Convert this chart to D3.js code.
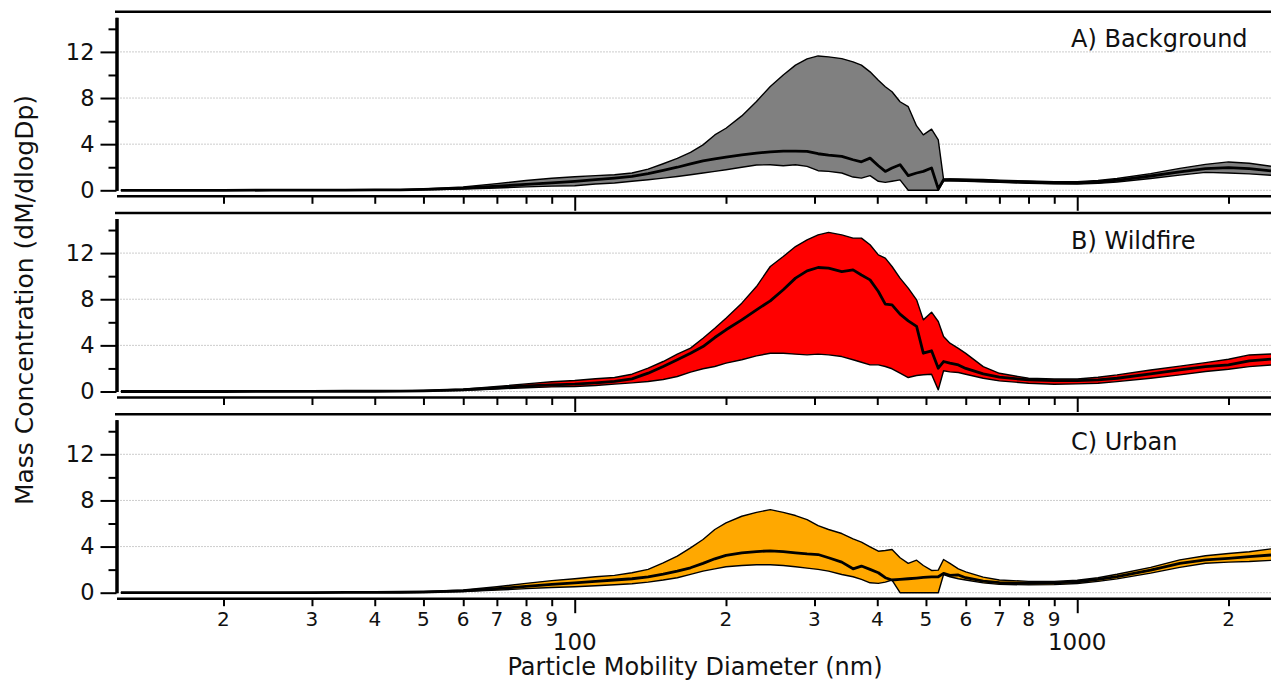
<!DOCTYPE html>
<html>
<head>
<meta charset="utf-8">
<script src="https://cdn.jsdelivr.net/npm/d3@7"></script>
<style>
  body { margin: 0; background: #fff; }
  svg { display: block; font-family: "DejaVu Sans", sans-serif; }
</style>
</head>
<body>
<div id="chart"></div>
<script>
// particle mobility diameter bins (nm)
var diameters = [12.5, 15, 20, 25, 30, 35, 40, 45, 50, 60, 70, 80, 90,
  100, 110, 120, 130, 140, 150, 160, 170, 180, 190, 200, 215, 230, 245, 260, 275, 290, 305, 320,
  340, 358, 372, 387, 402, 415, 428, 444, 461, 479, 494, 513, 529, 542, 558,
  580, 600, 650, 700, 800, 900, 1000, 1100, 1200, 1400, 1600, 1800, 2000, 2200, 2430];

// A) Background
var bgHigh = [0, 0, 0.01, 0.01, 0.02, 0.02, 0.04, 0.06, 0.12, 0.29, 0.58, 0.85, 1.05,
  1.18, 1.27, 1.35, 1.5, 1.84, 2.3, 2.76, 3.28, 3.94, 4.8, 5.38, 6.45, 7.7, 9.0, 10.0, 10.85, 11.4, 11.65, 11.57,
  11.42, 11.14, 10.85, 10.27, 9.55, 8.98, 8.55, 7.68, 7.25, 5.58, 4.81, 5.3, 4.37, 0.95, 0.98,
  0.98, 0.97, 0.93, 0.88, 0.8, 0.75, 0.75, 0.85, 1.02, 1.45, 1.9, 2.25, 2.46, 2.35, 2.08];
var bgMean = [0, 0, 0, 0.01, 0.01, 0.02, 0.03, 0.04, 0.08, 0.18, 0.35, 0.52, 0.65,
  0.78, 0.92, 1.06, 1.2, 1.44, 1.73, 2.0, 2.3, 2.56, 2.73, 2.88, 3.08, 3.22, 3.34, 3.4, 3.4, 3.37, 3.17, 3.05,
  2.94, 2.65, 2.47, 2.79, 2.13, 1.64, 1.93, 2.22, 1.27, 1.5, 1.64, 1.93, 0.12, 0.92, 0.92,
  0.88, 0.87, 0.83, 0.78, 0.7, 0.65, 0.64, 0.72, 0.87, 1.24, 1.6, 1.88, 1.97, 1.88, 1.68];
var bgLow = [0, 0, 0, 0, 0.01, 0.01, 0.02, 0.02, 0.04, 0.1, 0.2, 0.3, 0.36,
  0.4, 0.55, 0.63, 0.78, 0.92, 1.06, 1.2, 1.35, 1.5, 1.64, 1.78, 2.0, 2.19, 2.22, 2.13, 2.22, 2.07, 1.7, 1.64,
  1.5, 1.15, 1.06, 1.27, 0.78, 0.69, 0.78, 0.9, 0, 0, 0, 0, 0, 0.8, 0.82,
  0.8, 0.78, 0.74, 0.69, 0.61, 0.56, 0.55, 0.6, 0.72, 1.02, 1.32, 1.55, 1.5, 1.42, 1.3];

// B) Wildfire
var wfHigh = [0, 0, 0.01, 0.01, 0.02, 0.02, 0.03, 0.05, 0.09, 0.2, 0.43, 0.66, 0.85,
  0.95, 1.1, 1.21, 1.5, 2.02, 2.6, 3.24, 3.76, 4.62, 5.49, 6.36, 7.66, 9.1, 10.84, 11.7, 12.57, 13.15, 13.58, 13.8,
  13.58, 13.3, 13.3, 12.72, 11.85, 11.56, 10.84, 9.83, 8.96, 7.95, 6.21, 6.88, 6.07, 4.77, 4.19,
  3.74, 3.31, 2.16, 1.58, 1.15, 1.09, 1.09, 1.24, 1.44, 1.87, 2.2, 2.5, 2.8, 3.17, 3.25];
var wfMean = [0, 0, 0, 0.01, 0.01, 0.02, 0.02, 0.04, 0.06, 0.15, 0.32, 0.48, 0.58,
  0.64, 0.75, 0.87, 1.1, 1.59, 2.17, 2.75, 3.32, 3.9, 4.68, 5.35, 6.21, 7.08, 7.86, 8.82, 9.83, 10.46, 10.75, 10.69,
  10.4, 10.55, 10.1, 9.68, 8.67, 7.57, 7.51, 6.71, 6.13, 5.64, 3.32, 3.53, 2.02, 2.6, 2.46,
  2.3, 2.0, 1.53, 1.24, 1.0, 0.95, 0.95, 1.0, 1.15, 1.53, 1.87, 2.16, 2.3, 2.65, 2.8];
var wfLow = [0, 0, 0, 0, 0.01, 0.01, 0.02, 0.03, 0.04, 0.1, 0.22, 0.33, 0.4,
  0.43, 0.52, 0.64, 0.75, 0.87, 1.04, 1.3, 1.68, 1.97, 2.17, 2.46, 2.75, 3.09, 3.32, 3.32, 3.24, 3.18, 3.24, 3.18,
  3.03, 2.75, 2.54, 2.31, 2.31, 2.17, 1.97, 1.59, 1.21, 1.39, 1.45, 1.5, 0.14, 1.8, 1.7,
  1.65, 1.5, 1.15, 0.92, 0.72, 0.63, 0.66, 0.72, 0.86, 1.15, 1.44, 1.73, 1.93, 2.16, 2.3];

// C) Urban
var urHigh = [0, 0, 0.01, 0.01, 0.02, 0.03, 0.04, 0.06, 0.09, 0.23, 0.52, 0.81, 1.05,
  1.21, 1.38, 1.5, 1.73, 2.02, 2.59, 3.17, 3.89, 4.61, 5.48, 6.05, 6.63, 6.97, 7.2, 6.97, 6.69, 6.34, 5.82, 5.48,
  5.13, 4.67, 4.38, 3.98, 3.6, 3.66, 3.75, 3.03, 2.54, 2.82, 2.36, 1.93, 1.96, 2.88, 2.54,
  2.07, 1.8, 1.35, 1.1, 0.98, 0.98, 1.08, 1.3, 1.6, 2.2, 2.85, 3.2, 3.4, 3.55, 3.8];
var urMean = [0, 0, 0, 0.01, 0.01, 0.02, 0.03, 0.04, 0.06, 0.15, 0.35, 0.55, 0.72,
  0.86, 0.98, 1.1, 1.21, 1.38, 1.61, 1.87, 2.16, 2.54, 2.94, 3.23, 3.46, 3.57, 3.63, 3.57, 3.46, 3.37, 3.31, 3.03,
  2.65, 2.07, 2.31, 2.02, 1.73, 1.3, 1.1, 1.15, 1.21, 1.27, 1.33, 1.38, 1.38, 1.67, 1.5,
  1.54, 1.3, 1.0, 0.87, 0.81, 0.85, 0.95, 1.15, 1.4, 1.95, 2.55, 2.85, 2.98, 3.12, 3.27];
var urLow = [0, 0, 0, 0, 0.01, 0.01, 0.02, 0.02, 0.03, 0.1, 0.22, 0.35, 0.45,
  0.52, 0.6, 0.69, 0.78, 0.92, 1.1, 1.3, 1.59, 1.87, 2.07, 2.25, 2.36, 2.42, 2.42, 2.36, 2.25, 2.13, 2.02, 1.87,
  1.58, 1.38, 1.15, 0.86, 0.81, 0.92, 1.1, 0, 0, 0, 0, 0, 0, 1.58, 1.38,
  1.21, 1.1, 0.85, 0.72, 0.68, 0.7, 0.8, 0.98, 1.2, 1.7, 2.2, 2.55, 2.65, 2.7, 2.8];

var panelLabels = ["A) Background", "B) Wildfire", "C) Urban"];
var yMajorTicks = [0, 4, 8, 12];
var yMinorTicks = [2, 6, 10, 14];
var xMinorTicks = [20, 30, 40, 50, 60, 70, 80, 90, 200, 300, 400, 500, 600, 700, 800, 900, 2000];
var xMajorTicks = [100, 1000];

var panels = [
  { label: panelLabels[0], low: bgLow, mean: bgMean, high: bgHigh, fill: "#808080" },
  { label: panelLabels[1], low: wfLow, mean: wfMean, high: wfHigh, fill: "#ff0000" },
  { label: panelLabels[2], low: urLow, mean: urMean, high: urHigh, fill: "#ffa800" }
];

var W = 1271, H = 681;
var svg = d3.select("#chart").append("svg")
  .attr("width", W)
  .attr("height", H);

var plotLeft = 116.5, plotRight = 1271;
var x = d3.scaleLog().domain([12.25, 2430]).range([plotLeft, plotRight]);

var panelTop = 17.3, panelH = 173, panelStep = 201.2;

panels.forEach(function(p, i) {
  var y0 = panelTop + panelH + i * panelStep;
  var y = d3.scaleLinear().domain([0, 15]).range([y0, y0 - panelH]);
  var g = svg.append("g").attr("class", "panel");

  var rows = diameters.map(function(d, j) {
    return { d: d, lo: p.low[j], mid: p.mean[j], hi: p.high[j] };
  });

  // top frame line
  g.append("line")
    .attr("x1", plotLeft - 1.5).attr("x2", plotRight)
    .attr("y1", y0 - 178.5).attr("y2", y0 - 178.5)
    .attr("stroke", "#000").attr("stroke-width", 2.5);

  // dotted gridlines
  g.selectAll(".grid").data(yMajorTicks).enter().append("line")
    .attr("class", "grid")
    .attr("x1", plotLeft + 1).attr("x2", plotRight)
    .attr("y1", function(v){ return y(v); })
    .attr("y2", function(v){ return y(v); })
    .attr("stroke", "#9a9a9a").attr("stroke-width", 1)
    .attr("stroke-dasharray", "1,2");

  var clipId = "clip" + i;
  svg.append("clipPath").attr("id", clipId).append("rect")
    .attr("x", plotLeft).attr("y", y(15))
    .attr("width", plotRight - plotLeft).attr("height", panelH + 3);

  var data = g.append("g").attr("clip-path", "url(#" + clipId + ")");

  var band = d3.area()
    .x(function(r){ return x(r.d); })
    .y0(function(r){ return y(r.lo); })
    .y1(function(r){ return y(r.hi); });

  var line = function(key) {
    return d3.line()
      .x(function(r){ return x(r.d); })
      .y(function(r){ return y(r[key]); });
  };

  data.append("path").datum(rows)
    .attr("d", band)
    .attr("fill", p.fill);

  ["lo", "hi"].forEach(function(k) {
    data.append("path").datum(rows)
      .attr("d", line(k))
      .attr("fill", "none")
      .attr("stroke", "#000")
      .attr("stroke-width", 1.4)
      .attr("stroke-linejoin", "round");
  });

  data.append("path").datum(rows)
    .attr("d", line("mid"))
    .attr("fill", "none")
    .attr("stroke", "#000")
    .attr("stroke-width", 2.8)
    .attr("stroke-linejoin", "round");

  // y axis
  var yAxis = g.append("g")
    .attr("transform", "translate(" + plotLeft + ",0)")
    .call(d3.axisLeft(y).tickValues(yMajorTicks).tickSize(16).tickSizeOuter(0).tickPadding(6));
  yAxis.append("g")
    .call(d3.axisLeft(y).tickValues(yMinorTicks).tickSize(8).tickSizeOuter(0).tickFormat(""));
  yAxis.selectAll("path").attr("stroke-width", 3);
  yAxis.selectAll("line").attr("stroke-width", 2);
  yAxis.selectAll("text")
    .attr("font-size", "22.5px")
    .attr("font-family", "DejaVu Sans, sans-serif")
    .attr("fill", "#111");

  // x axis (offset below the zero level)
  var xAxisY = y0 + 5.5;
  var xAxis = g.append("g").attr("transform", "translate(0," + xAxisY + ")");
  xAxis.call(d3.axisBottom(x).tickValues(xMinorTicks).tickSize(8).tickSizeOuter(0).tickFormat(""));
  xAxis.append("g")
    .call(d3.axisBottom(x).tickValues(xMajorTicks).tickSize(15).tickSizeOuter(0).tickFormat(""))
    .select(".domain").remove();
  xAxis.select(".domain").attr("stroke-width", 2.5);
  xAxis.selectAll("line").attr("stroke-width", 2);

  // panel label
  g.append("text")
    .attr("x", 1071)
    .attr("y", y0 - 143)
    .attr("font-size", "24px")
    .attr("fill", "#111")
    .text(p.label);

  // tick labels only under the last panel
  if (i === panels.length - 1) {
    g.selectAll(".minorLabel").data(xMinorTicks).enter().append("text")
      .attr("class", "minorLabel")
      .attr("x", function(v){ return x(v); })
      .attr("y", xAxisY + 27.5)
      .attr("text-anchor", "middle")
      .attr("font-size", "20px")
      .attr("fill", "#111")
      .text(function(v){ return String(v / Math.pow(10, Math.floor(Math.log10(v)))); });
    g.selectAll(".majorLabel").data(xMajorTicks).enter().append("text")
      .attr("class", "majorLabel")
      .attr("x", function(v){ return x(v); })
      .attr("y", xAxisY + 51.5)
      .attr("text-anchor", "middle")
      .attr("font-size", "23px")
      .attr("fill", "#111")
      .text(function(v){ return String(v); });
  }
});

// axis titles
svg.append("text")
  .attr("x", 695)
  .attr("y", 675)
  .attr("text-anchor", "middle")
  .attr("font-size", "24px")
  .attr("fill", "#111")
  .text("Particle Mobility Diameter (nm)");

svg.append("text")
  .attr("transform", "translate(33,300) rotate(-90)")
  .attr("text-anchor", "middle")
  .attr("font-size", "25px")
  .attr("fill", "#111")
  .text("Mass Concentration (dM/dlogDp)");
</script>
</body>
</html>
